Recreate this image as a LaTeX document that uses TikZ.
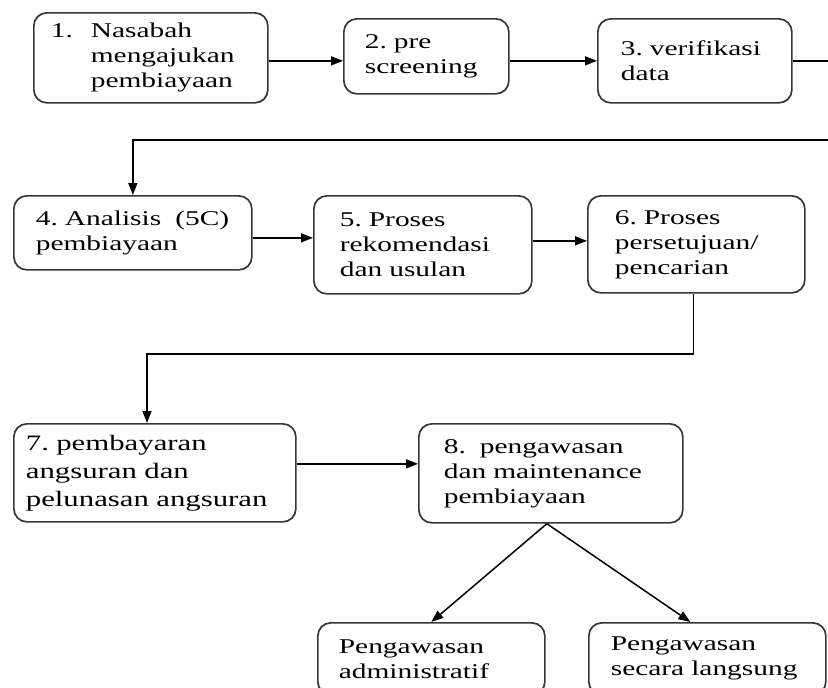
\documentclass[tikz,border=0pt]{standalone}
\usepackage{fontspec}
\setmainfont{Liberation Serif}[FakeStretch=1.4]
\usetikzlibrary{arrows.meta}
\definecolor{boxline}{RGB}{55,55,55}
\begin{document}
\begin{tikzpicture}[x=1pt,y=-1pt,
    box/.style={draw=boxline,line width=1.7pt,rounded corners=13pt,anchor=north west,
      align=left,inner ysep=0pt,font=\fontsize{21pt}{25pt}\selectfont},
    arr/.style={line width=1.5pt,-{Triangle[length=12pt,width=9pt]}}]
  \useasboundingbox (0,0) rectangle (828,688);
  \node[box,minimum width=234pt,minimum height=90pt,inner xsep=17pt,text width=200pt] (n1) at (33,12)
    {\makebox[40pt][l]{1.}Nasabah\\\hspace*{40pt}mengajukan\\\hspace*{40pt}pembiayaan};
  \node[box,minimum width=165pt,minimum height=75pt,inner xsep=21pt,text width=123pt] (n2) at (343,18)
    {2.~pre\\screening};
  \node[box,minimum width=194pt,minimum height=84pt,inner xsep=23pt,text width=148pt] (n3) at (597,18)
    {3.~verifikasi\\data};
  \node[box,minimum width=238pt,minimum height=74pt,inner xsep=22pt,text width=194pt] (n4) at (13,195)
    {4.~Analisis~~(5C)\\pembiayaan};
  \node[box,minimum width=218pt,minimum height=98pt,inner xsep=26pt,text width=166pt] (n5) at (313,195)
    {5.~Proses\\rekomendasi\\dan~usulan};
  \node[box,minimum width=217pt,minimum height=97pt,inner xsep=27pt,text width=163pt] (n6) at (587,195)
    {6.~Proses\\persetujuan/\\pencarian};
  \node[box,minimum width=282pt,minimum height=98pt,inner xsep=12pt,text width=258pt,
    font=\fontsize{22pt}{28pt}\selectfont] (n7) at (13,423)
    {7.~pembayaran\\angsuran~dan\\pelunasan~angsuran};
  \node[box,minimum width=264pt,minimum height=99pt,inner xsep=25pt,text width=214pt] (n8) at (418,423)
    {8.~~pengawasan\\dan~maintenance\\pembiayaan};
  \node[box,minimum width=227pt,minimum height=72pt,inner xsep=21pt,text width=185pt] (n9) at (317,622)
    {Pengawasan\\administratif};
  \node[box,minimum width=237pt,minimum height=72pt,inner xsep=22pt,text width=193pt] (n10) at (588,622)
    {Pengawasan\\secara~langsung};
  \coordinate (r1) at (850,140);
  \coordinate (r2) at (147,354);
  \draw[arr] ([yshift=-3pt]n1.east) -- ([yshift=-3pt]n1.east -| n2.west);
  \draw[arr] ([yshift=-4.5pt]n2.east) -- ([yshift=-4.5pt]n2.east -| n3.west);
  \draw[arr] (n3.east) -| (r1) -| (n4.north);
  \draw[arr] ([yshift=-5pt]n4.east) -- ([yshift=-5pt]n4.east -| n5.west);
  \draw[arr] ([yshift=4pt]n5.east) -- ([yshift=4pt]n5.east -| n6.west);
  \draw[arr] ([xshift=-3pt]n6.south) |- (r2) -- (r2 |- n7.north);
  \draw[arr] ([yshift=9pt]n7.east) -- ([yshift=9pt]n7.east -| n8.west);
  \draw[arr] ([xshift=-4pt]n8.south) -- (n9.north);
  \draw[arr] ([xshift=-4pt]n8.south) -- ([xshift=-17pt]n10.north);
\end{tikzpicture}
\end{document}
